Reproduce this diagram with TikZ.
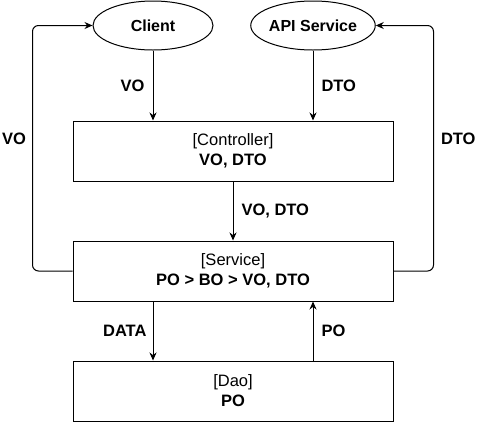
\documentclass[tikz,border=0pt]{standalone}
\usepackage{fontspec}
\setmainfont{Liberation Sans}
\usetikzlibrary{shapes.geometric,arrows.meta}

\begin{document}
\begin{tikzpicture}[x=1pt,y=-1pt,
  layer/.style={draw,rectangle,minimum width=320pt,minimum height=60pt,align=center,
    font=\fontsize{16.5}{20}\selectfont,line width=1pt},
  actor/.style={draw,ellipse,minimum width=120pt,minimum height=49pt,inner sep=0pt,
    font=\bfseries\fontsize{16}{19}\selectfont,line width=1pt},
  flow/.style={-{Stealth[length=8pt,width=7pt]},line width=1pt},
  lbl/.style={font=\bfseries\fontsize{16.5}{19}\selectfont,inner sep=0pt}]
\useasboundingbox (0,0) rectangle (478,421);
% callers
\node[actor] (client) at (153,25.5) {Client};
\node[actor] (api) at (313,25.5) {API Service};
% layers
\node[layer] (ctrl) at (233,151) {[Controller]\\\textbf{VO, DTO}};
\node[layer] (srv) at (233,271) {[Service]\\\textbf{PO > BO > VO, DTO}};
\node[layer] (dao) at (233,391) {[Dao]\\\textbf{PO}};
% requests down
\draw[flow] (client) -- node[lbl,left=8pt] {VO} (client|-ctrl.north);
\draw[flow] (api) -- node[lbl,right=8pt] {DTO} (api|-ctrl.north);
\draw[flow] (ctrl) -- node[lbl,right=8pt] {VO, DTO} (srv);
\draw[flow] (client|-srv.south) -- node[lbl,left=6pt] {DATA} (client|-dao.north);
\draw[flow] (api|-dao.north) -- node[lbl,right=8pt] {PO} (api|-srv.south);
% answers back up
\draw[flow,rounded corners=6pt] (srv.west) -- ++(-40,0)
  |- node[lbl,left=6pt,pos=0.27] {VO} (client.west);
\draw[flow,rounded corners=6pt] (srv.east) -- ++(40,0)
  |- node[lbl,right=7pt,pos=0.27] {DTO} (api.east);
\end{tikzpicture}
\end{document}
